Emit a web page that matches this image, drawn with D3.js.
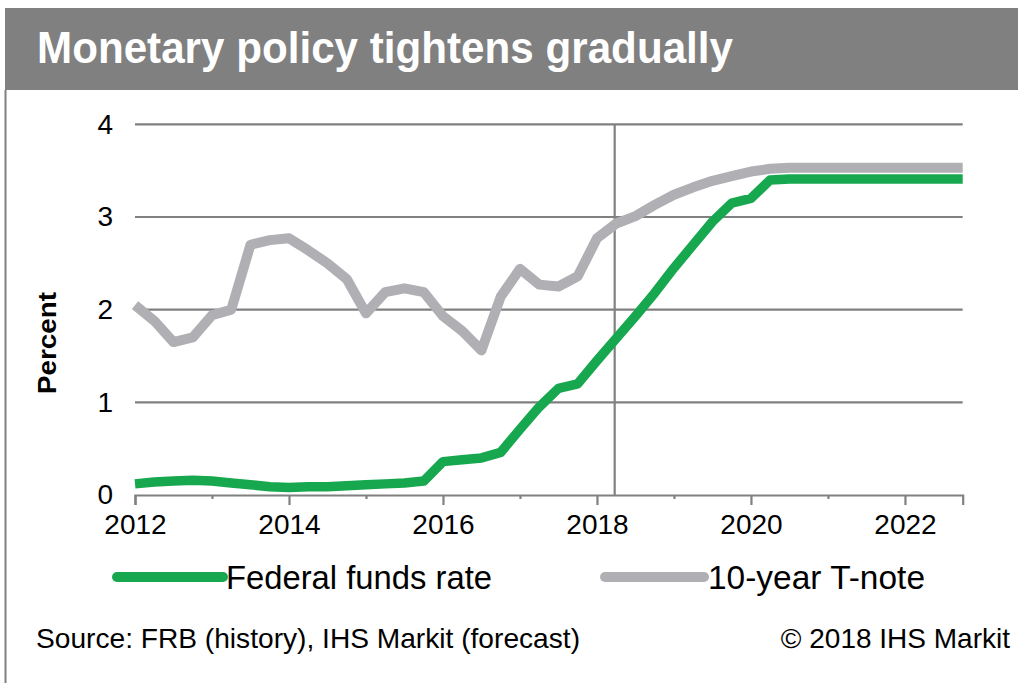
<!DOCTYPE html>
<html>
<head>
<meta charset="utf-8">
<script src="https://cdn.jsdelivr.net/npm/d3@7"></script>
<style>
  html, body { margin: 0; padding: 0; background: #fff; }
  svg { display: block; font-family: "Liberation Sans", Arial, sans-serif; }
</style>
</head>
<body>
<svg id="chart" width="1018" height="683"></svg>
<script>
// ---- data (quarterly, 2012Q1 .. 2022Q4) ----
const quarters = d3.range(44).map(i => 2012 + i * 0.25);
const fedFunds = [0.12, 0.14, 0.15, 0.16, 0.15, 0.13, 0.11, 0.09, 0.08, 0.09, 0.09, 0.10,
                  0.11, 0.12, 0.13, 0.15, 0.36, 0.38, 0.40, 0.46, 0.71, 0.95, 1.15, 1.20,
                  1.45, 1.69, 1.93, 2.18, 2.45, 2.70, 2.95, 3.15, 3.20, 3.40, 3.41, 3.41,
                  3.41, 3.41, 3.41, 3.41, 3.41, 3.41, 3.41, 3.41];
const tNote = [2.05, 1.88, 1.65, 1.70, 1.94, 2.00, 2.70, 2.75, 2.77, 2.64, 2.50, 2.33,
               1.96, 2.19, 2.23, 2.19, 1.93, 1.77, 1.56, 2.14, 2.44, 2.27, 2.25, 2.36,
               2.77, 2.93, 3.01, 3.13, 3.24, 3.32, 3.39, 3.44, 3.49, 3.52, 3.53, 3.53,
               3.53, 3.53, 3.53, 3.53, 3.53, 3.53, 3.53, 3.53];
const seriesNames = ["Federal funds rate", "10-year T-note"];
const yTicks = [0, 1, 2, 3, 4];
const yearTicks = d3.range(2012, 2023);
const labelYears = [2012, 2014, 2016, 2018, 2020, 2022];
const forecastStart = 2018.23;
const titleText = "Monetary policy tightens gradually";
const yLabel = "Percent";
const sourceText = "Source: FRB (history), IHS Markit (forecast)";
const copyText = "\u00A9 2018 IHS Markit";

// ---- styles ----
const GREEN = "#17a84f", LGRAY = "#b0b0b4", GRID = "#808080";

const svg = d3.select("#chart");
svg.append("rect").attr("width", 1018).attr("height", 683).attr("fill", "#fff");

// title bar
svg.append("rect").attr("x", 5).attr("y", 8).attr("width", 1013).attr("height", 82).attr("fill", "#808080");
svg.append("text").attr("x", 37).attr("y", 63)
  .attr("fill", "#fff").attr("font-weight", "bold").attr("font-size", 44)
  .attr("textLength", 696).attr("lengthAdjust", "spacingAndGlyphs")
  .text(titleText);
// left frame line
svg.append("line").attr("x1", 5.5).attr("x2", 5.5).attr("y1", 90).attr("y2", 683)
  .attr("stroke", GRID).attr("stroke-width", 2);

// scales
const x = d3.scaleLinear().domain([2012, 2022.75]).range([135, 962.7]);
const y = d3.scaleLinear().domain([0, 4]).range([495, 124.3]);

// horizontal grid
svg.append("g").selectAll("line").data(yTicks.filter(d => d > 0)).join("line")
  .attr("x1", x(2012)).attr("x2", x(2022.75))
  .attr("y1", d => y(d)).attr("y2", d => y(d))
  .attr("stroke", GRID).attr("stroke-width", 2.2);

// forecast divider
svg.append("line").attr("x1", x(forecastStart)).attr("x2", x(forecastStart))
  .attr("y1", y(4)).attr("y2", y(0))
  .attr("stroke", GRID).attr("stroke-width", 2.2);

// y axis labels
const yAxis = svg.append("g").attr("transform", `translate(${x(2012)},0)`)
  .call(d3.axisLeft(y).tickValues(yTicks).tickSize(0).tickPadding(22).tickFormat(d3.format("d")));
yAxis.select(".domain").remove();
yAxis.selectAll("text").attr("font-size", 28).attr("fill", "#000")
  .attr("font-family", "'Liberation Sans', Arial, sans-serif");

// x axis: minor ticks
const xMinor = svg.append("g").attr("transform", `translate(0,${y(0)})`)
  .call(d3.axisBottom(x).tickValues(yearTicks.filter(d => labelYears.indexOf(d) < 0)).tickSize(4).tickFormat(""));
xMinor.select(".domain").remove();
xMinor.selectAll("line").attr("stroke", GRID).attr("stroke-width", 2.2);
// x axis: major ticks with labels
const xMajor = svg.append("g").attr("transform", `translate(0,${y(0)})`)
  .call(d3.axisBottom(x).tickValues(labelYears).tickSize(10).tickPadding(9).tickFormat(d3.format("d")));
xMajor.select(".domain").attr("stroke", GRID).attr("stroke-width", 2.2);
xMajor.selectAll("line").attr("stroke", GRID).attr("stroke-width", 2.2);
xMajor.selectAll("text").attr("font-size", 28).attr("fill", "#000")
  .attr("font-family", "'Liberation Sans', Arial, sans-serif");

// y label
svg.append("text").attr("transform", "translate(56,343) rotate(-90)")
  .attr("text-anchor", "middle").attr("font-weight", "bold").attr("font-size", 26)
  .attr("textLength", 102).attr("lengthAdjust", "spacingAndGlyphs")
  .text(yLabel);

// lines
const line = d3.line().x((d, i) => x(quarters[i])).y(d => y(d));
svg.append("path").datum(tNote).attr("d", line)
  .attr("fill", "none").attr("stroke", LGRAY).attr("stroke-width", 10).attr("stroke-linejoin", "round");
svg.append("path").datum(fedFunds).attr("d", line)
  .attr("fill", "none").attr("stroke", GREEN).attr("stroke-width", 9.5).attr("stroke-linejoin", "round");

// legend
const legend = [
  { name: seriesNames[0], color: GREEN, x1: 117, x2: 223, tx: 226, tl: 266 },
  { name: seriesNames[1], color: LGRAY, x1: 605, x2: 704, tx: 708, tl: 217 }
];
const lg = svg.append("g").selectAll("g").data(legend).join("g");
lg.append("line").attr("x1", d => d.x1).attr("x2", d => d.x2).attr("y1", 577).attr("y2", 577)
  .attr("stroke", d => d.color).attr("stroke-width", 10).attr("stroke-linecap", "round");
lg.append("text").attr("x", d => d.tx).attr("y", 589).attr("font-size", 33)
  .attr("textLength", d => d.tl).attr("lengthAdjust", "spacingAndGlyphs")
  .text(d => d.name);

// footer
svg.append("text").attr("x", 36).attr("y", 648).attr("font-size", 28)
  .attr("textLength", 544).attr("lengthAdjust", "spacingAndGlyphs").text(sourceText);
svg.append("text").attr("x", 1010).attr("y", 648).attr("font-size", 28).attr("text-anchor", "end")
  .text(copyText);
</script>
</body>
</html>
